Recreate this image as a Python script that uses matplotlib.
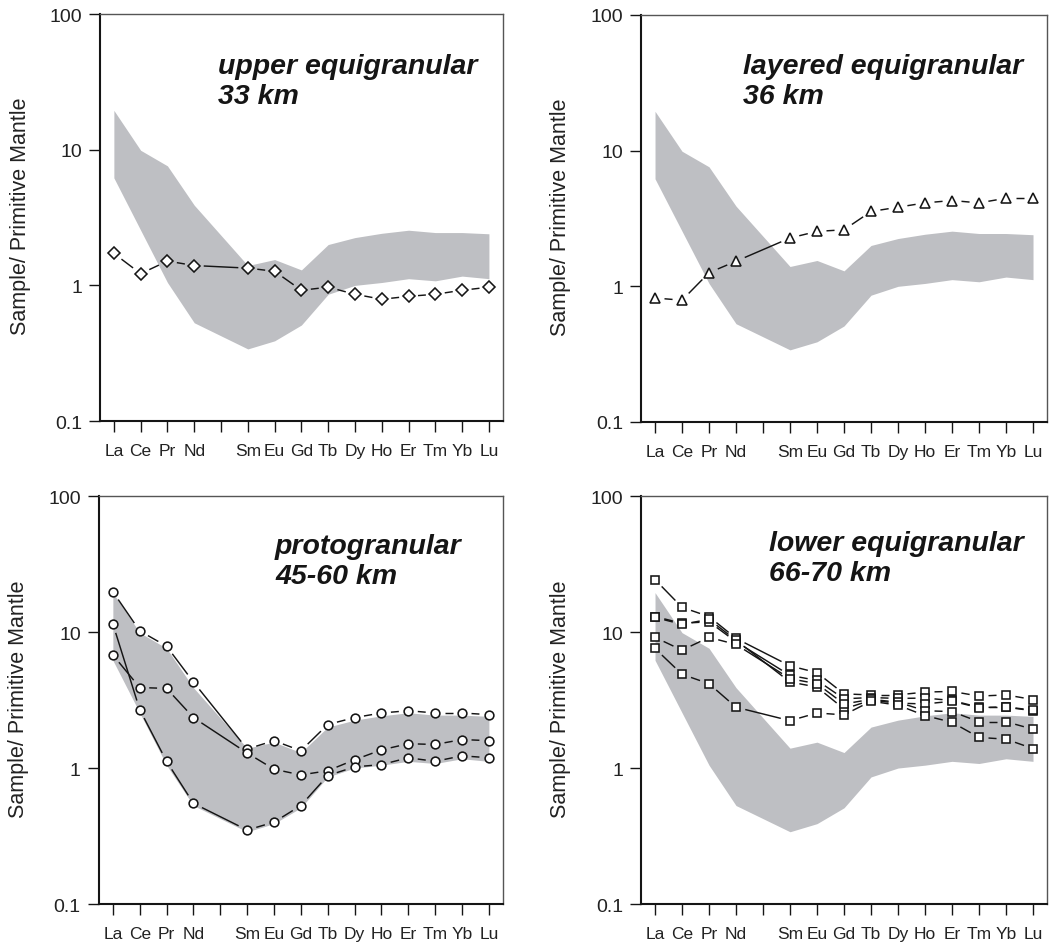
import numpy as np
import matplotlib
matplotlib.use("Agg")
import matplotlib.pyplot as plt

plt.rcParams['font.family'] = ['Liberation Sans', 'DejaVu Sans']

# REE order, Pm has a tick but no data
elements = ['La', 'Ce', 'Pr', 'Nd', 'Pm', 'Sm', 'Eu', 'Gd', 'Tb', 'Dy', 'Ho', 'Er', 'Tm', 'Yb', 'Lu']
tick_labels = ['La', 'Ce', 'Pr', 'Nd', '', 'Sm', 'Eu', 'Gd', 'Tb', 'Dy', 'Ho', 'Er', 'Tm', 'Yb', 'Lu']
plotted = [e for e in elements if e != 'Pm']

# grey field (protogranular envelope)
band_upper = [19.5, 9.9, 7.6, 3.9, 1.40, 1.55, 1.30, 2.0, 2.25, 2.42, 2.55, 2.45, 2.45, 2.40]
band_lower = [6.2, 2.55, 1.05, 0.53, 0.34, 0.39, 0.51, 0.86, 1.0, 1.05, 1.12, 1.08, 1.17, 1.12]

# upper equigranular, 33 km
upper_eq = [1.72, 1.22, 1.51, 1.40, 1.34, 1.27, 0.92, 0.97, 0.86, 0.79, 0.83, 0.86, 0.92, 0.97]

# layered equigranular, 36 km
layered_eq = [0.82, 0.79, 1.26, 1.53, 2.27, 2.54, 2.61, 3.56, 3.83, 4.12, 4.29, 4.12, 4.46, 4.46]

# protogranular, 45-60 km
proto_a = [19.8, 10.2, 7.87, 4.29, 1.38, 1.59, 1.34, 2.09, 2.35, 2.54, 2.64, 2.54, 2.54, 2.47]
proto_b = [6.79, 3.91, 3.85, 2.35, 1.29, 0.98, 0.89, 0.955, 1.15, 1.36, 1.51, 1.49, 1.62, 1.59]
proto_c = [11.5, 2.69, 1.12, 0.55, 0.35, 0.40, 0.53, 0.88, 1.02, 1.06, 1.19, 1.12, 1.23, 1.19]

# lower equigranular, 66-70 km
lower_a = [24.3, 15.2, 13.0, 8.98, 5.64, 5.03, 3.51, 3.45, 3.45, 3.62, 3.66, 3.38, 3.45, 3.19]
lower_b = [13.0, 11.6, 11.9, 8.49, 4.80, 4.41, 3.23, 3.30, 3.25, 3.27, 3.14, 2.80, 2.80, 2.64]
lower_c = [12.8, 11.4, 12.4, 8.70, 4.29, 3.94, 2.72, 3.15, 3.00, 2.96, 3.10, 2.78, 2.82, 2.66]
lower_d = [9.14, 7.36, 9.14, 8.11, 4.54, 4.17, 2.96, 3.20, 3.05, 2.64, 2.60, 2.19, 2.19, 1.93]
lower_e = [7.57, 4.89, 4.17, 2.80, 2.23, 2.54, 2.46, 3.10, 2.90, 2.43, 2.17, 1.68, 1.63, 1.39]

panels = [
    ("upper equigranular\n33 km", [upper_eq], 'D', 6.0, (0.293, 0.905)),
    ("layered equigranular\n36 km", [layered_eq], '^', 7.2, (0.251, 0.907)),
    ("protogranular\n45-60 km", [proto_a, proto_b, proto_c], 'o', 6.3, (0.436, 0.91)),
    ("lower equigranular\n66-70 km", [lower_a, lower_b, lower_c, lower_d, lower_e], 's', 5.8, (0.315, 0.917)),
]

positions = [
    [0.095, 0.5534, 0.383, 0.4307],
    [0.6093, 0.5524, 0.386, 0.4307],
    [0.094, 0.0423, 0.384, 0.4317],
    [0.6093, 0.0423, 0.386, 0.4317],
]

ink = '#151515'
x_all = np.arange(1, len(elements) + 1)
x = np.array([elements.index(e) + 1 for e in plotted])


def gapped_line(ax, xs, ys, gap=9.5):
    # solid segments that stop short of the symbols
    pts = ax.transData.transform(np.column_stack([xs, ys]))
    inv = ax.transData.inverted()
    for p0, p1 in zip(pts[:-1], pts[1:]):
        d = p1 - p0
        length = np.hypot(d[0], d[1])
        if length <= 2 * gap + 1:
            continue
        u = d / length
        seg = inv.transform(np.array([p0 + u * gap, p1 - u * gap]))
        ax.plot(seg[:, 0], seg[:, 1], color=ink, lw=1.05, zorder=2,
                solid_capstyle='butt')


fig = plt.figure(figsize=(10.52, 9.45), dpi=100)

for (title, series, marker, ms, tpos), pos in zip(panels, positions):
    ax = fig.add_axes(pos)
    ax.set_yscale('log')
    ax.set_xlim(0.48, 15.52)
    ax.set_ylim(0.1, 100)

    ax.fill_between(x, band_lower, band_upper, color='#bebfc3', lw=0, zorder=1)

    for s in series:
        gapped_line(ax, x, s)
        ax.plot(x, s, ls='none', marker=marker, ms=ms, mfc='white',
                mec=ink, mew=1.15, zorder=3)

    ax.set_xticks(x_all)
    ax.set_xticklabels(tick_labels, fontsize=12.5, color='#222222')
    ax.set_yticks([0.1, 1, 10, 100])
    ax.set_yticklabels(['0.1', '1', '10', '100'], fontsize=14, color='#222222')
    ax.yaxis.set_minor_locator(matplotlib.ticker.NullLocator())
    ax.tick_params(axis='x', length=8, width=1.0, pad=7.5, color=ink)
    ax.tick_params(axis='y', length=8, width=1.0, pad=5, color=ink)

    for side in ['left', 'bottom']:
        ax.spines[side].set_linewidth(1.5)
        ax.spines[side].set_color(ink)
    for side in ['top', 'right']:
        ax.spines[side].set_linewidth(1.0)
        ax.spines[side].set_color('#555555')

    ax.set_ylabel('Sample/ Primitive Mantle', fontsize=15.5, color='#222222')
    ax.yaxis.set_label_coords(-0.172, 0.505)

    ax.text(tpos[0], tpos[1], title, transform=ax.transAxes, fontsize=20.5,
            fontweight='bold', fontstyle='italic', color=ink,
            ha='left', va='top', linespacing=1.2)

fig.savefig('out.png', dpi=100)
